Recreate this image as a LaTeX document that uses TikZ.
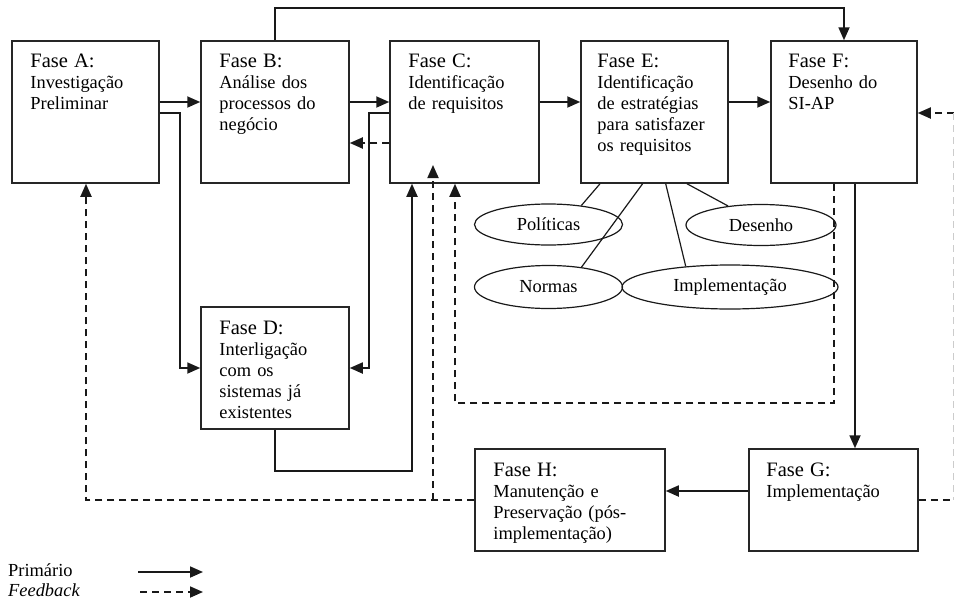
\documentclass[tikz,border=0pt]{standalone}
\usepackage{fontspec}
\setmainfont{Liberation Serif}
\usetikzlibrary{arrows.meta,shapes.geometric}
\newcommand\fasefont{\fontsize{20.5}{21}\selectfont}
\begin{document}
\begin{tikzpicture}[x=1pt,y=-1pt,
  box/.style={draw=black!85,line width=1.5pt,inner sep=0pt},
  txt/.style={anchor=base west,inner sep=0pt,text width=175pt,align=left,font=\fontsize{18.4}{21}\selectfont,text=black},
  pri/.style={line width=1.8pt,draw=black!90,-{Triangle[length=13pt,width=11pt]}},
  fb/.style={pri,dash pattern=on 7pt off 5pt},
  ell/.style={ellipse,draw=black!90,line width=1.2pt,inner sep=0pt,font=\fontsize{18.4}{21}\selectfont,text=black},
  eline/.style={line width=1.2pt,draw=black!90}
]
\useasboundingbox (0,0) rectangle (954,600);

% boxes
\node[box,minimum width=147pt,minimum height=142pt] (A) at (85.5,112) {};
\node[box,minimum width=148pt,minimum height=142pt] (B) at (275,112) {};
\node[box,minimum width=149pt,minimum height=142pt] (C) at (464.5,112) {};
\node[box,minimum width=147pt,minimum height=142pt] (E) at (654.5,112) {};
\node[box,minimum width=146pt,minimum height=142pt] (F) at (844,112) {};
\node[box,minimum width=148pt,minimum height=122pt] (D) at (275,368) {};
\node[box,minimum width=190pt,minimum height=102pt] (H) at (570,500) {};
\node[box,minimum width=169pt,minimum height=102pt] (G) at (833.5,500) {};

% box texts
\node[txt] (tA) at ([xshift=19pt,yshift=-27pt]A.north west) {{\fasefont Fase A:}\\Investigação\\Preliminar};
\node[txt] (tB) at ([xshift=19pt,yshift=-27pt]B.north west) {{\fasefont Fase B:}\\Análise dos\\processos do\\negócio};
\node[txt] (tC) at ([xshift=19pt,yshift=-27pt]C.north west) {{\fasefont Fase C:}\\Identificação\\de requisitos};
\node[txt] (tE) at ([xshift=17pt,yshift=-27pt]E.north west) {{\fasefont Fase E:}\\Identificação\\de estratégias\\para satisfazer\\os requisitos};
\node[txt] (tF) at ([xshift=18pt,yshift=-27pt]F.north west) {{\fasefont Fase F:}\\Desenho do\\SI-AP};
\node[txt] (tD) at ([xshift=19pt,yshift=-28pt]D.north west) {{\fasefont Fase D:}\\Interligação\\com os\\sistemas já\\existentes};
\node[txt] (tH) at ([xshift=19pt,yshift=-28pt]H.north west) {{\fasefont Fase H:}\\Manutenção e\\Preservação (pós-\\implementação)};
\node[txt] (tG) at ([xshift=18pt,yshift=-28pt]G.north west) {{\fasefont Fase G:}\\Implementação};

% ellipses
\node[ell,minimum width=148pt,minimum height=41pt] (pol) at (548.5,224.5) {Políticas};
\node[ell,minimum width=150pt,minimum height=41pt] (des) at (761,225) {Desenho};
\node[ell,minimum width=148pt,minimum height=43pt] (nor) at (548.5,287) {Normas};
\node[ell,minimum width=216pt,minimum height=44pt] (imp) at (730,287) {Implementação};

\draw[eline] (E.south -| 600,0) -- (pol.30);
\draw[eline] (E.south -| 642.6,0) -- (nor.31);
\draw[eline] (E.south -| 665.7,0) -- (imp.155);
\draw[eline] (E.south -| 687,0) -- (des.150);

% coordinates for free ends
\coordinate (rin) at (954,113);
\coordinate (rout) at (954,500);
\coordinate (hc) at (433,165);
\coordinate (hj) at (433,500);

% primary connectors
\draw[pri] (A.east |- 0,102) -- (B.west |- 0,102);
\draw[pri] (A.east |- 0,113) -| (180,368) -- (D.west);
\draw[pri] (B.east |- 0,102) -- (C.west |- 0,102);
\draw[pri] (C.west |- 0,113) -| (369,368) -- (D.east);
\draw[pri] (B.north) -- ++(0,-32) -| (F.north);
\draw[pri] (C.east |- 0,102) -- (E.west |- 0,102);
\draw[pri] (E.east |- 0,102) -- (F.west |- 0,102);
\draw[pri] (D.south) -- ++(0,41) -| (C.south -| 412,0);
\draw[pri] (F.south -| 855,0) -- (G.north -| 855,0);
\draw[pri] (G.west |- 0,491) -- (H.east |- 0,491);

% feedback connectors
\draw[fb] (C.west |- 0,143) -- (B.east |- 0,143);
\draw[fb] (rin) -- (F.east |- 0,113);
\draw[fb] (H.west) -| (A.south -| 86,0);
\draw[fb] (hj) -- (hc);
\draw[fb] (F.south -| 834,0) -- (834,403) -| (C.south -| 455,0);
\draw[line width=1.8pt,draw=black!90,dash pattern=on 7pt off 5pt] (G.east) -- (rout);
\draw[line width=0.8pt,draw=black!20,dash pattern=on 7pt off 5pt] ([xshift=-0.5pt]rin) -- ([xshift=-0.5pt]rout);

% legend
\node[anchor=base west,inner sep=0pt,font=\fontsize{18.4}{21}\selectfont,text=black] (lp) at (8,576) {Primário};
\node[anchor=base west,inner sep=0pt,font=\fontsize{18.4}{21}\selectfont\itshape,text=black] (lf) at (8,596) {Feedback};
\coordinate (lp1) at (138,572);
\coordinate (lp2) at (203,572);
\coordinate (lf1) at (140,592);
\coordinate (lf2) at (203,592);
\draw[pri] (lp1) -- (lp2);
\draw[fb] (lf1) -- (lf2);
\end{tikzpicture}
\end{document}
